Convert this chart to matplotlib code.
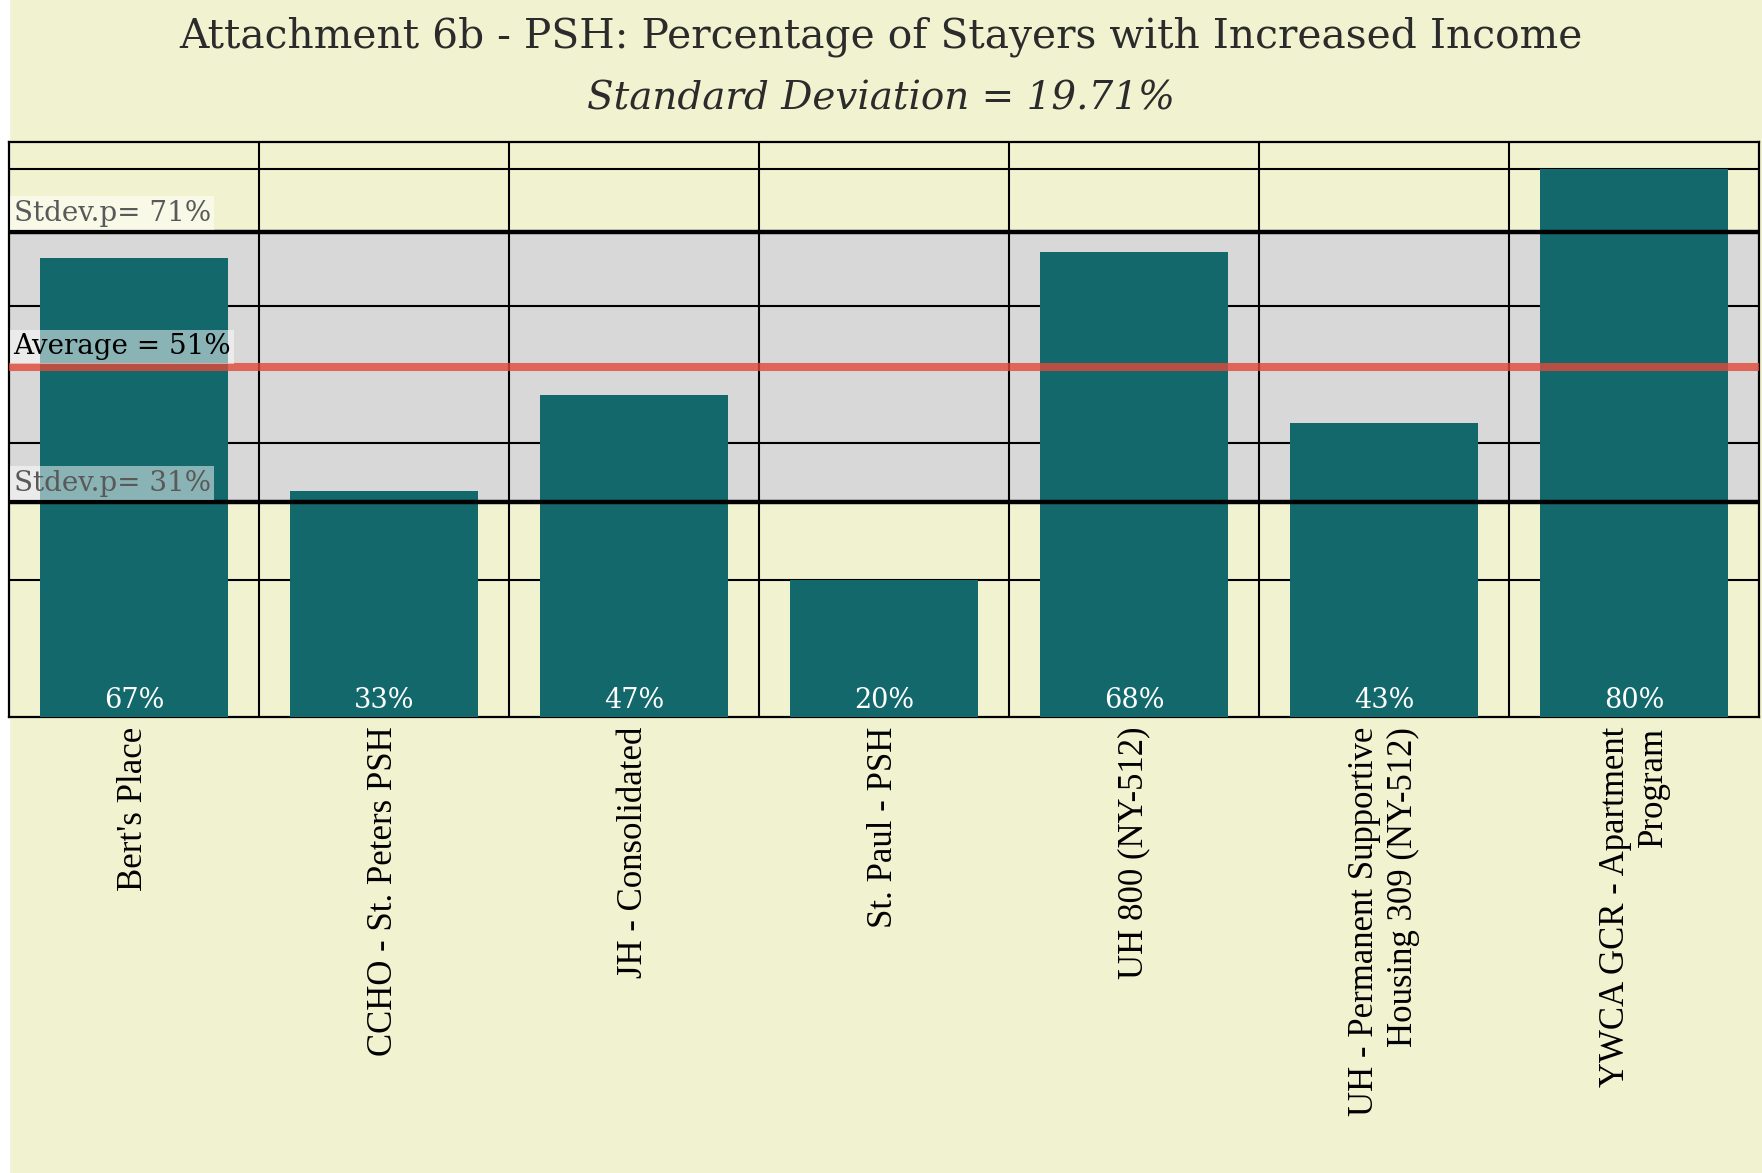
import matplotlib.pyplot as plt
import matplotlib.transforms as mtransforms

programs = ["Bert's Place", "CCHO - St. Peters PSH", "JH - Consolidated",
            "St. Paul - PSH", "UH 800 (NY-512)",
            "UH - Permanent Supportive\nHousing 309 (NY-512)",
            "YWCA GCR - Apartment\nProgram"]
pct = [67, 33, 47, 20, 68, 43, 80]
avg = 51.1
stdev = 19.71

bg = '#f1f3d0'
teal = '#13686b'

fig = plt.figure(figsize=(17.62, 11.73), dpi=100, facecolor=bg)
ax = fig.add_axes([9 / 1762, 1 - 717 / 1173, 1750 / 1762, 575 / 1173])
ax.set_facecolor(bg)
# white strip on the far left
fig.patches.append(plt.Rectangle((0, 0), 9 / 1762, 1, transform=fig.transFigure,
                                 color='white', zorder=-1))

x = list(range(len(pct)))
ax.bar(x, pct, width=0.75, color=teal, zorder=3)
ax.set_xlim(-0.5, len(pct) - 0.5)
ax.set_ylim(0, 84)

# band of +/- one standard deviation
lo, hi = avg - stdev, avg + stdev
ax.axhspan(lo, hi, color='#d8d8d8', zorder=0)
for y in [20, 40, 60, 80]:
    ax.axhline(y, color='black', lw=1.5, zorder=1)
for i in range(len(pct) - 1):
    ax.axvline(i + 0.5, color='black', lw=1.5, zorder=1)
ax.axhline(lo, color='black', lw=3.2, zorder=4)
ax.axhline(hi, color='black', lw=3.2, zorder=4)
ax.axhline(avg, color='#e2493a', alpha=0.8, lw=5.8, zorder=5)

for s in ax.spines.values():
    s.set_color('black')
    s.set_linewidth(1.6)

ax.set_yticks([])
ax.set_xticks(x)
ax.set_xticklabels(programs, rotation=90, fontsize=25, family='Liberation Serif',
                   va='top', ha='center', multialignment='right')
ax.tick_params(axis='x', length=0, pad=7)

for xi, v in zip(x, pct):
    ax.annotate(f'{v}%', (xi, 0), xytext=(0, 2), textcoords='offset points',
                ha='center', va='bottom', color='white', fontsize=19.5,
                family='DejaVu Serif', zorder=6)

trans = mtransforms.blended_transform_factory(ax.transAxes, ax.transData)
box = dict(boxstyle='square,pad=0.12', fc='white', ec='none', alpha=0.5)
ax.annotate(f'Stdev.p= {hi:.0f}%', (0.001, hi), xycoords=trans, xytext=(2, 4),
            textcoords='offset points', va='bottom', ha='left', fontsize=20,
            family='DejaVu Serif', color='#595959', bbox=box, zorder=7)
ax.annotate(f'Average = {avg:.0f}%', (0.001, avg), xycoords=trans, xytext=(2, 5),
            textcoords='offset points', va='bottom', ha='left', fontsize=20,
            family='DejaVu Serif', color='black', bbox=box, zorder=7)
ax.annotate(f'Stdev.p= {lo:.0f}%', (0.001, lo), xycoords=trans, xytext=(2, 4),
            textcoords='offset points', va='bottom', ha='left', fontsize=20,
            family='DejaVu Serif', color='#595959', bbox=box, zorder=7)

fig.text(0.5, 1 - 37 / 1173, 'Attachment 6b - PSH: Percentage of Stayers with Increased Income',
         ha='center', va='center', fontsize=29.3, family='DejaVu Serif', color='#2b2b2b')
fig.text(0.5, 1 - 99 / 1173, f'Standard Deviation = {stdev:.2f}%',
         ha='center', va='center', fontsize=28, family='DejaVu Serif',
         style='italic', color='#2b2b2b')

plt.savefig('out.png', dpi=100, facecolor=bg)
